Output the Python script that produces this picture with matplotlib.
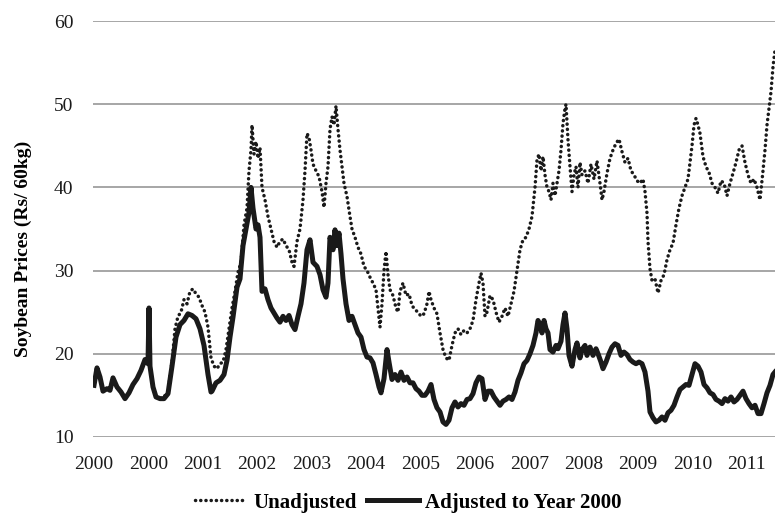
import matplotlib
matplotlib.use("Agg")
from matplotlib import pyplot as plt
from matplotlib.lines import Line2D

plt.rcParams['font.family'] = ['Liberation Serif', 'DejaVu Serif']

# sampling index (roughly every 4th trading day) and prices, Rs per 60 kg
t_adj = [0, 3, 6, 9, 13, 16, 19, 23, 27, 31, 35, 39, 43, 47, 51, 54, 55, 56, 59, 62,
         66, 70, 74, 78, 82, 86, 90, 94, 98, 102, 106, 110, 114, 117, 118, 122, 126, 130, 133, 136,
         139, 143, 146, 149, 152, 155, 157, 159, 162, 164, 166, 168, 171, 174, 177, 180, 183, 186, 189, 192,
         195, 198, 201, 204, 207, 210, 213, 216, 219, 223, 226, 229, 232, 234, 236, 239, 241, 243, 245, 247,
         249, 252, 255, 258, 261, 264, 267, 270, 273, 276, 279, 282, 285, 287, 290, 293, 295, 298, 301, 304,
         307, 310, 313, 316, 319, 322, 325, 328, 331, 334, 337, 340, 343, 346, 349, 352, 355, 358, 361, 364,
         367, 370, 373, 376, 379, 382, 385, 388, 391, 394, 397, 400, 403, 406, 409, 412, 415, 418, 421, 424,
         427, 430, 433, 436, 439, 442, 444, 446, 448, 450, 452, 454, 456, 459, 462, 464, 467, 469, 471, 473,
         475, 478, 481, 483, 486, 488, 491, 493, 496, 499, 502, 504, 507, 509, 512, 515, 518, 521, 524, 527,
         530, 533, 536, 539, 542, 545, 548, 551, 554, 556, 559, 562, 565, 568, 571, 574, 577, 580, 583, 586,
         589, 592, 595, 598, 601, 604, 607, 610, 613, 616, 619, 622, 625, 628, 631, 634, 637, 640, 643, 646,
         649, 652, 655, 658, 661, 664, 667, 670, 673, 676, 679, 681]
adjusted = [16.2, 18.3, 17.2, 15.5, 15.8, 15.6, 17.1, 16.0, 15.4, 14.6, 15.3, 16.3, 17.0, 18.0, 19.3, 18.8, 25.5, 18.5, 16.0, 14.8,
            14.6, 14.6, 15.2, 18.5, 22.0, 23.5, 24.0, 24.8, 24.6, 24.2, 23.0, 21.0, 17.5, 15.4, 15.5, 16.5, 16.8, 17.5, 19.2, 22.0,
            24.4, 28.0, 29.0, 33.0, 35.0, 37.0, 40.0, 37.5, 35.0, 35.5, 34.0, 27.5, 27.8, 26.5, 25.5, 24.9, 24.3, 23.8, 24.5, 24.0,
            24.6, 23.5, 22.9, 24.5, 26.0, 28.5, 32.5, 33.7, 31.0, 30.5, 29.5, 27.7, 26.8, 28.5, 34.0, 32.5, 34.9, 33.0, 34.5, 32.0,
            29.0, 26.0, 24.0, 24.5, 23.5, 22.5, 22.0, 20.5, 19.6, 19.5, 18.9, 17.5, 16.0, 15.3, 17.0, 20.5, 19.0, 16.9, 17.5, 16.8,
            17.8, 16.8, 17.2, 16.5, 16.5, 15.8, 15.5, 15.0, 15.0, 15.5, 16.3, 14.5, 13.5, 13.0, 11.8, 11.5, 12.0, 13.5, 14.2, 13.6,
            14.0, 13.8, 14.5, 14.6, 15.2, 16.5, 17.2, 17.0, 14.5, 15.5, 15.5, 14.8, 14.3, 13.8, 14.3, 14.5, 14.8, 14.5, 15.4, 16.8,
            17.7, 18.8, 19.2, 20.0, 21.0, 22.5, 24.0, 23.5, 22.5, 24.0, 23.0, 22.5, 20.5, 20.2, 21.0, 20.6, 21.5, 23.5, 24.9, 23.0,
            19.8, 18.5, 20.5, 21.3, 19.5, 20.5, 21.0, 19.8, 20.8, 19.8, 20.6, 20.0, 19.0, 18.2, 19.0, 20.0, 20.8, 21.2, 21.0, 19.8,
            20.2, 19.9, 19.3, 19.0, 18.8, 19.0, 18.8, 17.8, 15.5, 13.0, 12.3, 11.8, 12.0, 12.4, 12.0, 12.9, 13.2, 13.8, 14.8, 15.7,
            16.0, 16.3, 16.2, 17.5, 18.8, 18.5, 17.8, 16.3, 15.9, 15.3, 15.1, 14.5, 14.3, 14.0, 14.6, 14.3, 14.8, 14.2, 14.5, 15.0,
            15.5, 14.6, 14.0, 13.5, 13.8, 12.8, 12.8, 14.0, 15.3, 16.2, 17.5, 17.8]

t_unadj = [0, 3, 6, 9, 13, 16, 19, 23, 27, 31, 35, 39, 43, 47, 51, 54, 55, 56, 59, 62,
           66, 70, 74, 78, 81, 84, 87, 90, 93, 96, 99, 102, 105, 108, 111, 114, 117, 120, 123, 126,
           129, 132, 135, 138, 141, 144, 147, 150, 153, 155, 157, 158, 160, 162, 164, 166, 168, 171, 174, 177,
           180, 183, 186, 189, 192, 195, 198, 200, 203, 206, 209, 211, 213, 215, 217, 219, 222, 225, 228, 230,
           232, 234, 236, 238, 240, 242, 244, 246, 248, 250, 253, 256, 258, 261, 264, 267, 270, 273, 276, 279,
           282, 284, 286, 288, 290, 292, 294, 296, 299, 302, 304, 306, 309, 312, 315, 318, 321, 324, 327, 330,
           333, 335, 337, 340, 343, 346, 349, 352, 355, 358, 361, 364, 367, 370, 373, 376, 379, 382, 385, 387,
           389, 391, 393, 396, 399, 402, 405, 408, 411, 414, 417, 420, 423, 426, 429, 432, 435, 438, 441, 443,
           445, 447, 449, 451, 453, 455, 457, 459, 461, 463, 465, 467, 469, 471, 472, 474, 476, 478, 480, 482,
           484, 486, 488, 491, 494, 497, 500, 503, 506, 508, 510, 513, 516, 519, 522, 525, 528, 531, 534, 537,
           540, 543, 546, 549, 551, 553, 554, 556, 558, 561, 564, 567, 570, 573, 576, 579, 582, 585, 588, 591,
           594, 596, 598, 600, 602, 604, 606, 609, 612, 615, 618, 621, 624, 627, 630, 633, 636, 639, 642, 645,
           648, 651, 654, 657, 660, 663, 666, 669, 671, 673, 675, 677, 679, 681]
unadjusted = [16.2, 18.3, 17.2, 15.5, 15.8, 15.6, 17.1, 16.0, 15.4, 14.6, 15.3, 16.3, 17.0, 18.0, 19.3, 18.8, 25.5, 18.5, 16.0, 14.8,
              14.6, 14.8, 15.5, 19.0, 23.0, 24.5, 25.0, 26.5, 26.0, 27.5, 27.8, 27.2, 26.8, 25.8, 25.0, 23.2, 19.5, 18.5, 18.2, 18.8,
              19.0, 20.5, 23.0, 25.5, 27.5, 29.8, 31.0, 35.5, 37.5, 42.0, 44.5, 47.5, 44.0, 45.5, 43.5, 44.8, 40.0, 38.5, 36.5, 35.0,
              33.5, 32.8, 33.5, 33.8, 33.0, 32.5, 31.0, 30.5, 33.5, 35.0, 38.5, 42.0, 46.5, 46.0, 44.5, 42.8, 42.0, 41.3, 39.5, 37.6,
              40.5, 42.5, 47.0, 48.5, 47.5, 49.8, 47.0, 44.5, 42.5, 40.5, 38.9, 36.5, 35.0, 34.0, 32.8, 32.0, 30.5, 30.0, 29.2, 28.5,
              27.7, 25.5, 23.2, 26.0, 30.0, 32.3, 29.5, 27.7, 27.0, 25.5, 25.0, 27.5, 28.5, 27.0, 27.2, 25.8, 25.3, 25.0, 24.5, 24.8,
              26.0, 27.5, 26.5, 25.5, 24.8, 22.5, 20.5, 19.5, 19.2, 21.0, 22.5, 23.0, 22.3, 22.8, 22.5, 23.0, 24.0, 26.5, 28.5, 29.7,
              28.5, 24.5, 25.0, 27.0, 26.5, 25.0, 23.8, 24.5, 25.5, 24.5, 26.0, 27.5, 30.0, 32.5, 33.7, 34.0, 35.0, 36.5, 40.0, 43.3,
              44.0, 42.0, 43.7, 41.5, 40.0, 39.5, 38.5, 40.5, 39.0, 40.5, 42.0, 44.5, 47.7, 49.5, 50.0, 45.7, 42.5, 39.5, 41.5, 42.5,
              40.0, 43.0, 41.5, 42.0, 40.5, 42.8, 41.0, 43.2, 40.5, 38.5, 39.5, 41.7, 43.5, 44.5, 45.3, 45.8, 44.3, 43.0, 43.5, 42.0,
              41.5, 40.8, 40.5, 41.0, 39.5, 36.9, 33.5, 30.2, 28.8, 29.0, 27.3, 28.8, 29.5, 31.3, 32.5, 33.3, 35.5, 37.5, 39.0, 40.0,
              41.0, 43.0, 45.0, 47.5, 48.3, 47.5, 46.5, 43.7, 42.5, 41.8, 40.5, 40.0, 39.3, 40.8, 40.5, 39.0, 40.5, 41.7, 43.0, 44.5,
              45.0, 43.0, 41.5, 40.5, 41.0, 40.0, 38.5, 42.0, 44.5, 47.5, 49.5, 51.5, 54.5, 56.5]

# category labels are shown every label_step sampling steps from the first point
year_labels = ['2000', '2000', '2001', '2002', '2003', '2004', '2005',
               '2006', '2007', '2008', '2009', '2010', '2011']
label_step = 54.4

ink = '#1a1a1a'
dotted = (0, (0.05, 1.45))

fig = plt.figure(figsize=(7.75, 5.14), dpi=100)
ax = fig.add_axes([0.1200, 0.150, 0.8800, 0.809])

ax.plot(t_unadj, unadjusted, color=ink, lw=2.5, linestyle=dotted,
        dash_capstyle='round', zorder=3)
ax.plot(t_adj, adjusted, color=ink, lw=3.6, solid_joinstyle='round', zorder=4)

ax.set_xlim(-1, 681)
ax.set_ylim(10, 60)
ax.set_yticks(range(10, 61, 10))
ax.set_xticks([label_step * k for k in range(len(year_labels))])
ax.set_xticklabels(year_labels)
ax.tick_params(axis='both', length=0, labelsize=14, colors=ink)
ax.tick_params(axis='x', pad=14)
ax.tick_params(axis='y', pad=14)
ax.grid(axis='y', color='#a6a6a6', lw=1.4)
ax.set_axisbelow(True)
for s in ax.spines.values():
    s.set_visible(False)

ax.set_ylabel('Soybean Prices (Rs/ 60kg)', fontsize=14, fontweight='bold')
ax.yaxis.set_label_coords(-0.089, 0.452)

handles = [Line2D([], [], color=ink, lw=2.5, linestyle=dotted, dash_capstyle='round'),
           Line2D([], [], color=ink, lw=3.6)]
fig.legend(handles, ['Unadjusted', 'Adjusted to Year 2000'], loc='center',
           bbox_to_anchor=(0.527, 0.022), ncol=2, frameon=False,
           prop={'weight': 'bold', 'size': 15}, handlelength=2.5, handletextpad=0.3,
           columnspacing=0.5)

fig.savefig('out.png', dpi=100)
